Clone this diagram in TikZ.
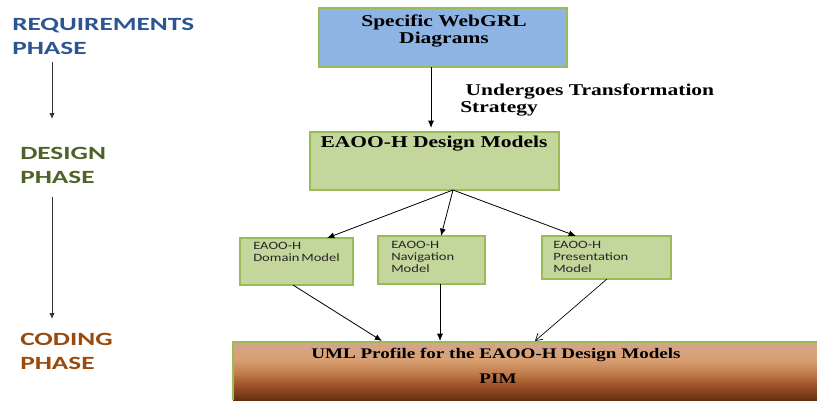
\documentclass[tikz,border=0pt]{standalone}
\usepackage{fontspec}
\usetikzlibrary{arrows.meta}
\setmainfont{Liberation Serif}
\newfontfamily\boxserif{Liberation Serif}[FakeStretch=1.3]
\newfontfamily\boxsans{Carlito}[FakeStretch=1.3]
\newfontfamily\phasefont{Carlito}[FakeStretch=1.46]

\definecolor{reqblue}{HTML}{2C5592}
\definecolor{desgreen}{HTML}{4F6228}
\definecolor{codbrown}{HTML}{9A4A0C}
\definecolor{topblue}{HTML}{8EB4E3}
\definecolor{modgreen}{HTML}{C3D69B}
\definecolor{edgegreen}{HTML}{9BBB59}
\definecolor{brownA}{HTML}{D2A68C}
\definecolor{brownB}{HTML}{D8A072}
\definecolor{brownC}{HTML}{BE7A4A}
\definecolor{brownD}{HTML}{9E5028}
\definecolor{brownE}{HTML}{663010}

% tan-to-dark-brown fill of the profile bar (path spans 25bp..75bp)
\pgfdeclareverticalshading{profileshade}{100bp}{
  color(0bp)=(brownE); color(25bp)=(brownE); color(37.5bp)=(brownD);
  color(47.5bp)=(brownC); color(60bp)=(brownB); color(75bp)=(brownA);
  color(100bp)=(brownA)}

\tikzset{
  x=0.75pt, y=-0.75pt,
  phase/.style={anchor=north west, align=left, inner sep=0pt,
    font=\phasefont\bfseries\fontsize{14}{18}\selectfont},
  bigbox/.style={draw=edgegreen, line width=0.8pt, inner sep=0pt},
  modbox/.style={bigbox, fill=modgreen},
  boxtitle/.style={anchor=north, align=center, inner sep=0pt,
    font=\boxserif\bfseries\fontsize{12.4}{12.3}\selectfont},
  umltitle/.style={anchor=north, align=center, inner sep=0pt,
    font=\boxserif\bfseries\fontsize{11}{12}\selectfont},
  smalltext/.style={anchor=north west, align=left, inner sep=0pt,
    font=\boxsans\fontsize{8.4}{8.8}\selectfont, text=black!85},
  flow/.style={-{Latex[length=5.5pt,width=4.5pt]}, line width=0.6pt},
  openflow/.style={-{Straight Barb[length=5pt,width=6pt]}, line width=0.5pt},
  phaseflow/.style={-{Latex[length=4.5pt,width=4pt]}, line width=0.6pt, black!80}
}

\begin{document}
\begin{tikzpicture}
\useasboundingbox (0,0) rectangle (817,400);

% phase labels on the left
\node[phase, text=reqblue] (req) at (12,18) {REQUIREMENTS\\PHASE};
\node[phase, text=desgreen] (des) at (20,147) {DESIGN\\PHASE};
\node[phase, text=codbrown] (cod) at (20,333) {CODING\\PHASE};
\coordinate (reqend) at (52,119);
\coordinate (desstart) at (52,197);
\coordinate (desend) at (52,319);
\draw[phaseflow] (52,62) -- (reqend);
\draw[phaseflow] (desstart) -- (desend);

% top box
\draw[bigbox, fill=topblue] (319,8) rectangle (567,67);
\node[boxtitle] (webgrl) at (444,15) {Specific WebGRL\\Diagrams};
\coordinate (webgrlS) at (431,67);

\node[boxtitle, anchor=north west, align=left] (undergoes) at (460,84)
  {\ Undergoes Transformation\\Strategy};

% design models box
\draw[modbox] (310,132) rectangle (559,190);
\node[boxtitle] (design) at (434,136) {EAOO-H Design Models};
\coordinate (designN) at (431,128);
\coordinate (designS) at (453,190);
\draw[flow] (webgrlS) -- (designN);

% three sub-models
\draw[modbox] (240,238) rectangle (353,285);
\node[smalltext] (domain) at (253,242) {EAOO-H\\Domain\,Model};
\draw[modbox] (378,236) rectangle (485,284);
\node[smalltext] (nav) at (391,241) {EAOO-H\\Navigation\\Model};
\draw[modbox] (542,236) rectangle (671,279);
\node[smalltext] (pres) at (553,241) {EAOO-H\\Presentation\\Model};

\coordinate (domainN) at (327,238);
\coordinate (navN) at (441,236);
\coordinate (presN) at (576,236);
\draw[flow] (designS) -- (domainN);
\draw[flow] (designS) -- (navN);
\draw[flow] (designS) -- (presN);

% bottom profile box
\shade[shading=profileshade] (233,342) rectangle (817,400);
\draw[draw=edgegreen, line width=0.8pt] (233,400) -- (233,342) -- (817,342);
\node[umltitle] (uml) at (496,348) {UML Profile for the EAOO-H Design Models};
\node[umltitle] (pim) at (498,374) {PIM};

\coordinate (domainS) at (293,285);
\coordinate (navS) at (440,284);
\coordinate (presS) at (607,279);
\coordinate (umlA) at (382,341);
\coordinate (umlB) at (440,341);
\coordinate (umlC) at (535,341);
\draw[flow] (domainS) -- (umlA);
\draw[flow] (navS) -- (umlB);
\draw[openflow] (presS) -- (umlC);
\end{tikzpicture}
\end{document}
